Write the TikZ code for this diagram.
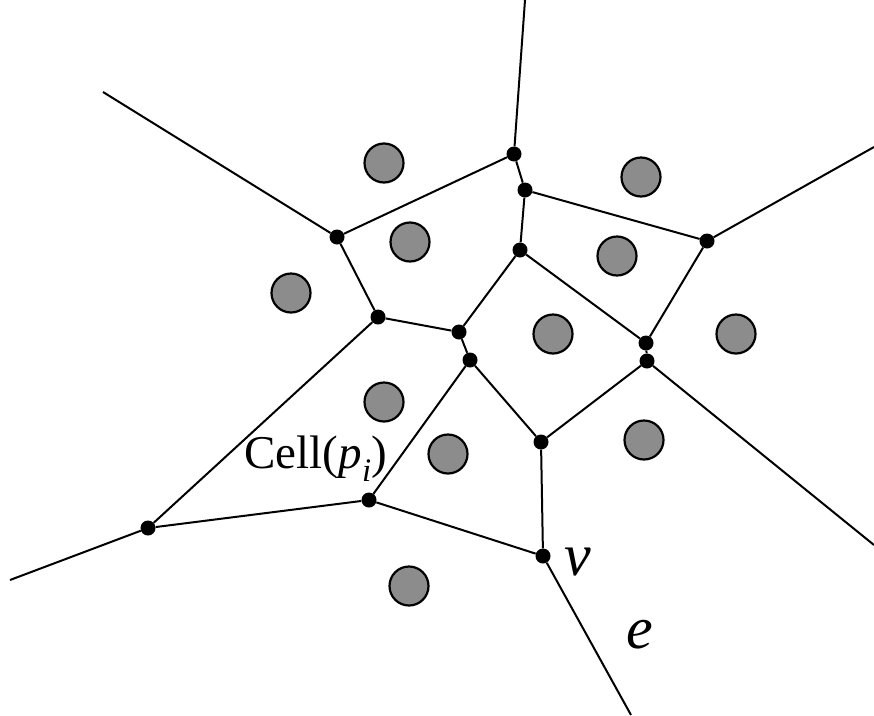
\documentclass[tikz,border=0pt]{standalone}
\usepackage{fontspec}
\setmainfont{Liberation Serif}
\usetikzlibrary{positioning}
\definecolor{siteFill}{HTML}{8C8C8C}
\tikzset{
  vtx/.style = {circle, fill=black, inner sep=0pt, minimum size=15pt},
  site/.style = {circle, draw=black, line width=2.2pt, fill=siteFill,
    inner sep=0pt, minimum size=39pt},
  edge/.style = {line width=2pt, draw=black},
  lbl/.style = {anchor=base, inner sep=0pt, font=\fontsize{47}{52}\selectfont},
  big/.style = {anchor=base, inner sep=0pt, font=\fontsize{60}{66}\selectfont\itshape},
}
\begin{document}
\begin{tikzpicture}[x=1pt, y=-1pt]
\useasboundingbox (0,0) rectangle (874,715);

% open ends
\coordinate (t1) at (525,0);
\coordinate (t2) at (103,92);
\coordinate (t3) at (874,147);
\coordinate (t4) at (874,545);
\coordinate (t5) at (10,580);
\coordinate (t6) at (631,715);

% vertices
\node[vtx] (v1) at (514,154) {};
\node[vtx] (v2) at (525,190) {};
\node[vtx] (v3) at (337,237) {};
\node[vtx] (v4) at (707,241) {};
\node[vtx] (v5) at (520,250) {};
\node[vtx] (v6) at (378,317) {};
\node[vtx] (v7) at (459,332) {};
\node[vtx] (v8) at (646,343) {};
\node[vtx] (v9) at (647,361) {};
\node[vtx] (v10) at (470,360) {};
\node[vtx] (v11) at (541,442) {};
\node[vtx] (v12) at (369,500) {};
\node[vtx] (v13) at (148,528) {};
\node[vtx] (v14) at (543,556) {};

% sites
\node[site] (s1) at (384,163) {};
\node[site] (s2) at (641,177) {};
\node[site] (s3) at (410,242) {};
\node[site] (s4) at (617,256) {};
\node[site] (s5) at (291,293) {};
\node[site] (s6) at (553,334) {};
\node[site] (s7) at (736,334) {};
\node[site] (s8) at (384,402) {};
\node[site] (s9) at (448,454) {};
\node[site] (s10) at (644,440) {};
\node[site] (s11) at (409,586) {};

% edges
\draw[edge] (t1) -- (v1);
\draw[edge] (v1) -- (v3);
\draw[edge] (v1) -- (v2);
\draw[edge] (v2) -- (v4);
\draw[edge] (v2) -- (v5);
\draw[edge] (t2) -- (v3);
\draw[edge] (v3) -- (v6);
\draw[edge] (v4) -- (t3);
\draw[edge] (v4) -- (v8);
\draw[edge] (v5) -- (v7);
\draw[edge] (v5) -- (v8);
\draw[edge] (v6) -- (v7);
\draw[edge] (v6) -- (v13);
\draw[edge] (v7) -- (v10);
\draw[edge] (v10) -- (v12);
\draw[edge] (v10) -- (v11);
\draw[edge] (v8) -- (v9);
\draw[edge] (v9) -- (v11);
\draw[edge] (v9) -- (t4);
\draw[edge] (v11) -- (v14);
\draw[edge] (v12) -- (v13);
\draw[edge] (v12) -- (v14);
\draw[edge] (v13) -- (t5);
\draw[edge] (v14) -- (t6);

% labels
\node[lbl] (cell) at (316,468) {Cell(\textit{p}\textsubscript{\textit{i}})};
\node[big] (lv) at (578,575) {v};
\node[big] (le) at (640,648) {e};

\end{tikzpicture}
\end{document}
